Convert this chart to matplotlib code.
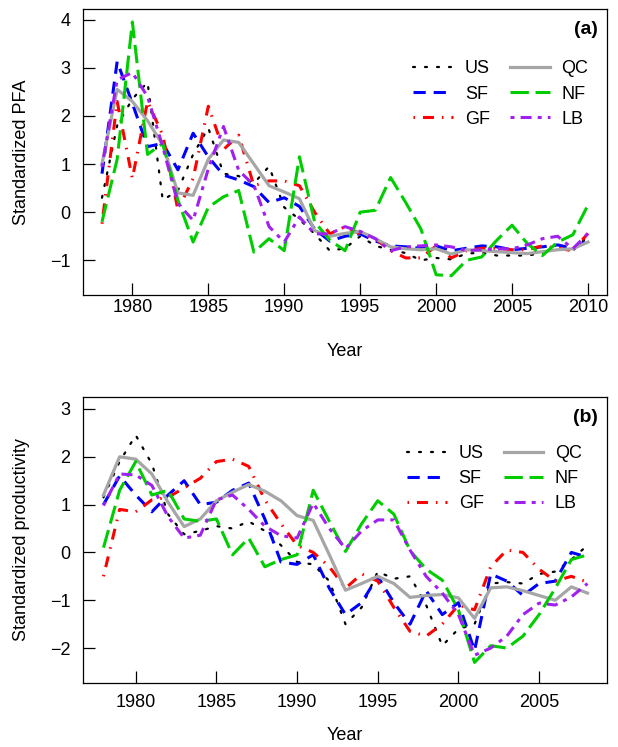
import matplotlib
matplotlib.use('Agg')
import matplotlib.pyplot as plt

# years for each panel
yearsPfa = list(range(1978, 2011))
yearsProd = list(range(1978, 2009))

# panel (a) standardized PFA
pfaUS = [0.3, 1.8, 2.35, 2.7, 0.25, 0.45, 1.2, 1.75, 0.8, 0.75, 0.6, 0.95, 0.1, -0.15, -0.45, -0.8, -0.75,
         -0.5, -0.7, -0.78, -0.85, -1.0, -0.95, -0.98, -0.86, -0.84, -0.9, -0.9, -0.9, -0.85, -0.65, -0.8, -0.5]
pfaSF = [0.8, 3.13, 2.26, 1.36, 1.43, 0.88, 1.64, 1.15, 0.77, 0.67, 0.53, 0.2, 0.3, 0.12, -0.35, -0.6, -0.5,
         -0.45, -0.6, -0.7, -0.72, -0.75, -0.7, -0.8, -0.75, -0.7, -0.72, -0.78, -0.75, -0.72, -0.68, -0.75, -0.6]
pfaGF = [-0.24, 2.3, 0.7, 2.3, 1.6, 0.05, 0.7, 2.2, 1.3, 1.6, 0.55, 0.65, 0.65, 0.55, 0.0, -0.45, -0.3,
         -0.45, -0.55, -0.8, -0.95, -0.95, -0.7, -0.95, -0.8, -0.75, -0.75, -0.78, -0.78, -0.7, -0.75, -0.8, -0.44]
pfaQC = [1.0, 2.55, 2.3, 1.9, 1.4, 0.4, 0.35, 1.1, 1.5, 1.45, 1.0, 0.55, 0.42, 0.28, -0.38, -0.5, -0.44,
         -0.4, -0.55, -0.72, -0.76, -0.78, -0.76, -0.87, -0.78, -0.8, -0.82, -0.84, -0.86, -0.82, -0.78, -0.76, -0.62]
pfaNF = [-0.2, 1.1, 3.95, 1.2, 1.43, 0.25, -0.62, 0.1, 0.32, 0.45, -0.83, -0.55, -0.8, 1.15, -0.2, -0.58, -0.8,
         0.0, 0.04, 0.72, 0.2, -0.35, -1.3, -1.32, -1.0, -0.93, -0.58, -0.27, -0.65, -0.9, -0.62, -0.47, 0.15]
pfaLB = [0.94, 2.75, 2.9, 2.4, 1.36, 0.18, -0.17, 0.9, 1.78, 0.87, 0.56, -0.3, -0.62, -0.1, -0.45, -0.45, -0.3,
         -0.4, -0.55, -0.8, -0.72, -0.7, -0.68, -0.72, -0.8, -0.78, -0.76, -0.76, -0.68, -0.55, -0.5, -0.76, -0.44]

# panel (b) standardized productivity
prodUS = [1.15, 1.9, 2.45, 1.85, 0.8, 0.38, 0.45, 0.55, 0.5, 0.65, 0.45, 0.15, -0.2, -0.25, -0.6, -1.5,
          -1.15, -0.4, -0.55, -0.5, -1.1, -1.95, -1.6, -1.5, -0.65, -0.62, -0.65, -0.45, -0.4, -0.15, 0.15]
prodSF = [1.0, 1.6, 1.2, 0.85, 1.2, 1.5, 1.0, 1.05, 1.3, 1.45, 0.7, -0.2, -0.25, -0.05, -0.75, -1.3,
          -1.05, -0.5, -1.05, -1.5, -0.8, -1.3, -1.05, -2.05, -0.45, -0.6, -0.9, -0.65, -0.6, 0.0, -0.1]
prodGF = [-0.5, 0.9, 0.85, 1.1, 1.15, 1.35, 1.55, 1.9, 1.95, 1.8, 1.1, 0.6, 0.15, 0.0, -0.3, -0.75,
          -0.45, -0.6, -1.15, -1.65, -1.75, -1.5, -1.1, -1.2, -0.3, 0.05, 0.0, -0.35, -0.6, -0.5, -0.62]
prodQC = [1.2, 2.0, 1.95, 1.64, 1.05, 0.54, 0.7, 1.08, 1.26, 1.42, 1.28, 1.08, 0.77, 0.67, -0.05, -0.79,
          -0.65, -0.5, -0.65, -0.94, -0.9, -0.88, -0.95, -1.38, -0.74, -0.72, -0.8, -0.9, -1.0, -0.72, -0.85]
prodNF = [0.1, 1.3, 1.9, 1.2, 1.3, 0.7, 0.65, 0.7, -0.05, 0.3, -0.3, -0.15, -0.05, 1.3, 0.65, 0.02,
          0.6, 1.08, 0.8, 0.04, -0.35, -0.58, -1.2, -2.3, -1.95, -2.0, -1.75, -1.3, -0.75, -0.15, -0.05]
prodLB = [0.98, 1.64, 1.62, 1.4, 0.75, 0.3, 0.36, 1.1, 1.2, 0.9, 0.55, 0.35, 0.3, 1.03, 0.5, 0.08,
          0.45, 0.68, 0.68, 0.05, -0.5, -0.85, -1.3, -2.15, -2.0, -1.75, -1.3, -1.06, -1.1, -0.93, -0.65]

regions = ['US', 'SF', 'GF', 'QC', 'NF', 'LB']

# line look for each region (R style lty)
styles = {
    'US': dict(color='black', lw=1.6, ls=(0, (0.9, 4.5)), dash_capstyle='round'),
    'SF': dict(color='#0000FF', lw=2.2, ls=(0, (4, 2.6))),
    'GF': dict(color='#FF0000', lw=2.2, ls=(0, (0.5, 2.6, 3.6, 2.6))),
    'QC': dict(color='#A6A6A6', lw=2.3, ls='-'),
    'NF': dict(color='#00CD00', lw=2.2, ls=(0, (6, 2.2))),
    'LB': dict(color='#A020F0', lw=2.2, ls=(0, (1.3, 2.0, 3.6, 2.0))),
}

plt.rcParams['font.family'] = ['Liberation Sans', 'DejaVu Sans']
plt.rcParams['font.size'] = 13


def drawPanel(ax, years, series, tag, xlim, ylim, yticks, xticks, ylabel, legendAnchor, xpad, yearY):
    for name in regions:
        ax.plot(years, series[name], label=name, **styles[name])
    ax.set_xlim(xlim)
    ax.set_ylim(ylim)
    ax.set_xticks(xticks)
    ax.set_yticks(yticks)
    ax.set_yticklabels([str(t).replace('-', '\u2212') for t in yticks])
    ax.tick_params(direction='in', length=8.6, width=0.9, labelsize=13)
    ax.tick_params(axis='y', pad=9)
    ax.tick_params(axis='x', pad=xpad)
    for sp in ax.spines.values():
        sp.set_linewidth(0.9)
    ax.set_xlabel('Year', fontsize=13)
    ax.xaxis.set_label_coords(0.5, yearY)
    ax.set_ylabel(ylabel, fontsize=13)
    ax.yaxis.set_label_coords(-0.101, 0.5)
    ax.text(0.982, 0.93, tag, transform=ax.transAxes, ha='right', va='center',
            fontsize=14, fontweight='bold')
    ax.legend(ncol=2, frameon=False, loc='upper right', bbox_to_anchor=legendAnchor,
              borderaxespad=0, borderpad=0, handlelength=2.2, handletextpad=0.65,
              columnspacing=1.1, labelspacing=0.45, fontsize=13)


fig = plt.figure(figsize=(6.18, 7.47), dpi=100)

axA = fig.add_axes([83 / 618, 1 - 295 / 747, 524 / 618, 286 / 747])
seriesA = dict(zip(regions, [pfaUS, pfaSF, pfaGF, pfaQC, pfaNF, pfaLB]))
drawPanel(axA, yearsPfa, seriesA, '(a)', (1976.75, 2011.25), (-1.72, 4.22),
          [-1, 0, 1, 2, 3, 4], [1980, 1985, 1990, 1995, 2000, 2005, 2010],
          'Standardized PFA', (0.964, 0.82), 3, -0.168)

axB = fig.add_axes([83 / 618, 1 - 683 / 747, 524 / 618, 286 / 747])
seriesB = dict(zip(regions, [prodUS, prodSF, prodGF, prodQC, prodNF, prodLB]))
drawPanel(axB, yearsProd, seriesB, '(b)', (1976.73, 2009.21), (-2.73, 3.25),
          [-2, -1, 0, 1, 2, 3], [1980, 1985, 1990, 1995, 2000, 2005],
          'Standardized productivity', (0.952, 0.832), 8, -0.155)

fig.savefig('out.png', dpi=100)
